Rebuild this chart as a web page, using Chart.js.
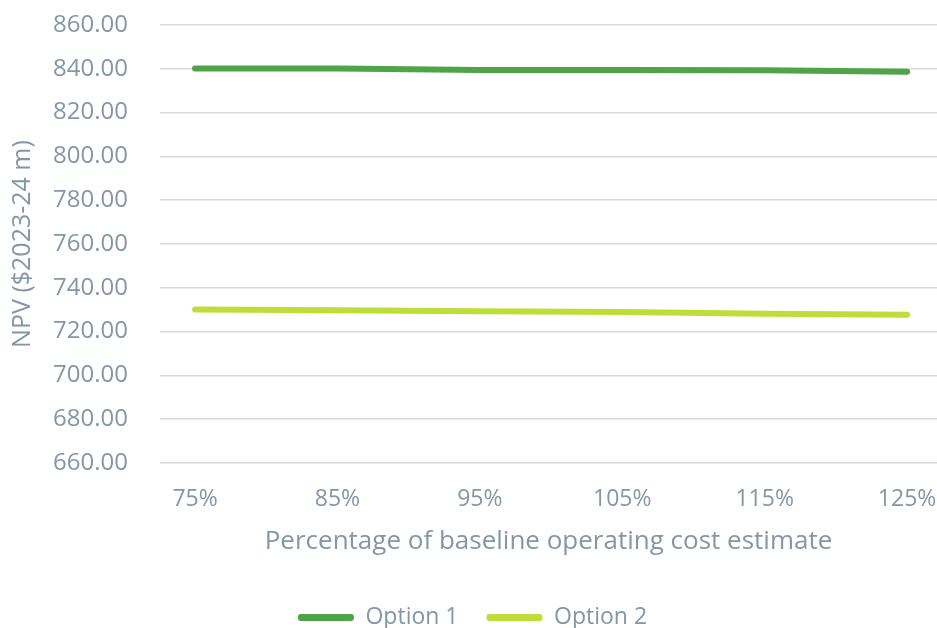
<!DOCTYPE html>
<html>
<head>
<meta charset="utf-8">
<title>NPV sensitivity to operating cost</title>
<script src="https://cdn.jsdelivr.net/npm/chart.js@4.4.0/dist/chart.umd.min.js"></script>
<style>
  html, body { margin: 0; padding: 0; background: #ffffff; }
  #npvChart { display: block; }
</style>
</head>
<body>
<canvas id="npvChart" width="937" height="628"></canvas>
<script>
// Cost levels (x) and their tick labels
const costLevels = [75, 85, 95, 105, 115, 125]
const costLabels = ["75%", "85%", "95%", "105%", "115%", "125%"]

// NPV per option, $2023-24 m
const option1Npv = [840.1, 840.1, 839.4, 839.4, 839.3, 838.7]
const option2Npv = [730.1, 729.8, 729.3, 728.9, 728.1, 727.7]

// Y axis ticks
const npvTicks = [660, 680, 700, 720, 740, 760, 780, 800, 820, 840, 860]

const textColor = "#8596a6"
const gridColor = "#d9d9d9"
const option1Color = "#4ea447"
const option2Color = "#bedd3a"
const fontFamily = "'Open Sans', 'Noto Sans', sans-serif"

Chart.defaults.font.family = fontFamily
Chart.defaults.color = textColor

const toPoints = (values) => costLevels.map((x, i) => ({ x: x, y: values[i] }))

const ctx = document.getElementById("npvChart")

new Chart(ctx, {
  type: "line",
  data: {
    datasets: [
      {
        label: "Option 1",
        data: toPoints(option1Npv),
        borderColor: option1Color,
        backgroundColor: option1Color,
        borderWidth: 6,
        borderCapStyle: "round",
        pointRadius: 0,
        tension: 0,
      },
      {
        label: "Option 2",
        data: toPoints(option2Npv),
        borderColor: option2Color,
        backgroundColor: option2Color,
        borderWidth: 6,
        borderCapStyle: "round",
        pointRadius: 0,
        tension: 0,
      },
    ],
  },
  options: {
    responsive: false,
    animation: false,
    layout: {
      padding: { top: 0, left: 8, right: 0, bottom: -11 },
    },
    scales: {
      x: {
        type: "linear",
        min: 72.54,
        max: 127.1,
        afterBuildTicks: (scale) => {
          scale.ticks = costLevels.map((v) => ({ value: v }))
        },
        // fixed axis height, plot runs to the right edge
        afterFit: (scale) => {
          scale.height = 115
          scale.paddingLeft = 0
          scale.paddingRight = 0
        },
        grid: { display: false, drawTicks: false },
        border: { display: false },
        ticks: {
          padding: 23,
          font: { size: 23 },
          color: textColor,
          maxRotation: 0,
          callback: (value) => costLabels[costLevels.indexOf(value)],
        },
        title: {
          display: true,
          text: "Percentage of baseline operating cost estimate",
          font: { size: 26 },
          color: textColor,
          padding: { top: 14, bottom: 21 },
        },
      },
      y: {
        min: 660,
        max: 860,
        afterBuildTicks: (scale) => {
          scale.ticks = npvTicks.map((v) => ({ value: v }))
        },
        // fixed axis width; the wide tick padding should not push the plot down
        afterFit: (scale) => {
          scale.width = 152
          scale.paddingTop = 25
          scale.paddingBottom = 0
        },
        grid: {
          color: gridColor,
          lineWidth: 1.5,
          drawTicks: false,
        },
        border: { display: false },
        ticks: {
          padding: 32,
          font: { size: 24 },
          color: textColor,
          callback: (value) => value.toFixed(2),
        },
        title: {
          display: true,
          text: "NPV ($2023-24 m)",
          font: { size: 25 },
          color: textColor,
          padding: { top: 0, bottom: 4 },
        },
      },
    },
    plugins: {
      tooltip: { enabled: false },
      legend: {
        position: "bottom",
        labels: {
          boxWidth: 56,
          boxHeight: 7,
          padding: 28,
          font: { size: 23 },
          color: textColor,
          generateLabels: (chart) =>
            Chart.defaults.plugins.legend.labels.generateLabels(chart).map((item) => ({
              ...item,
              fillStyle: item.strokeStyle,
              lineWidth: 0,
              borderRadius: 3,
            })),
        },
      },
    },
  },
})
</script>
</body>
</html>
